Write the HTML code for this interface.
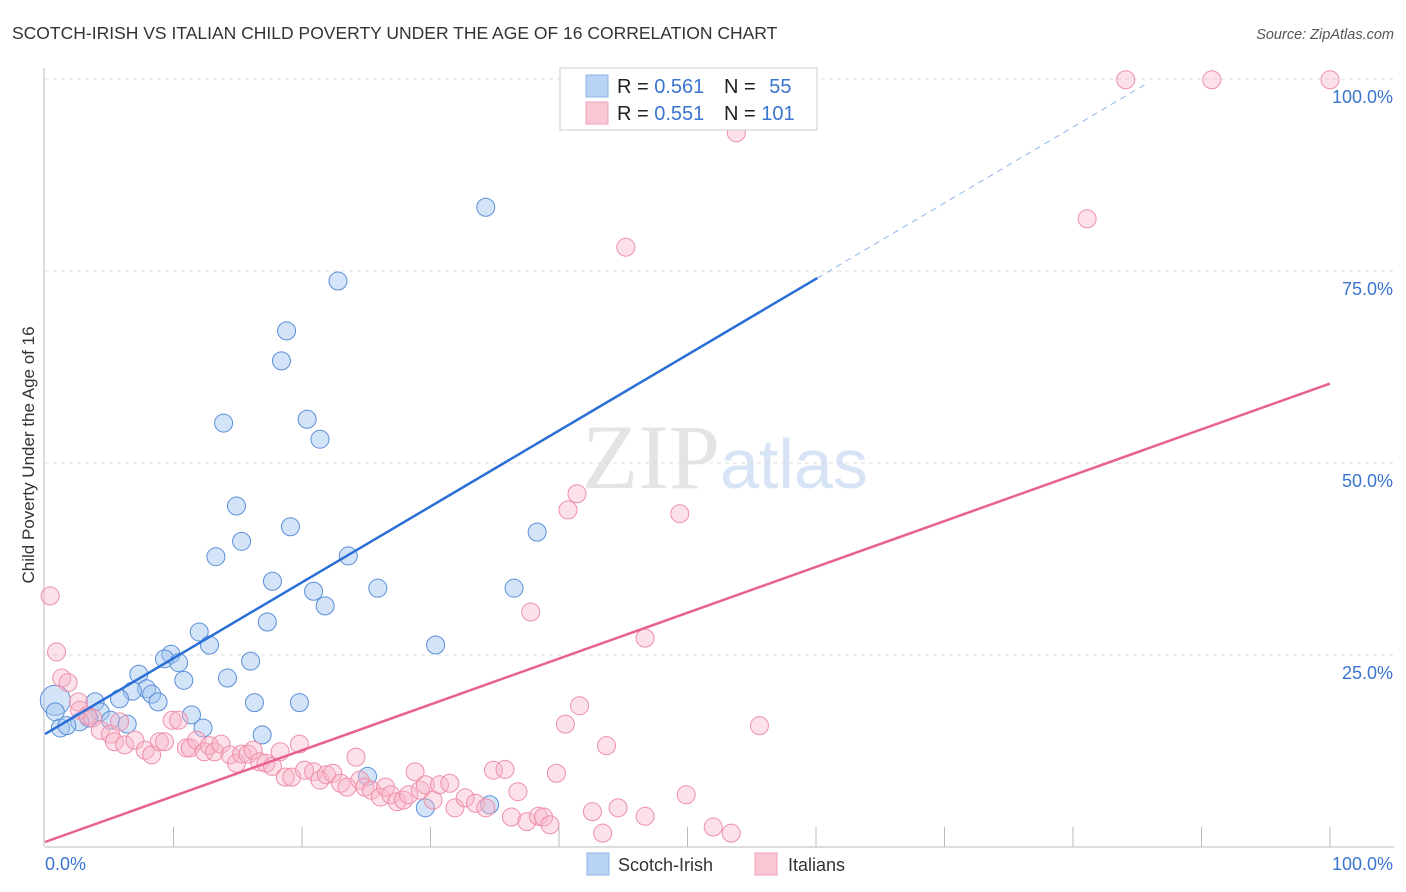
<!DOCTYPE html>
<html><head><meta charset="utf-8"><style>
body{margin:0;background:#fff;font-family:"Liberation Sans",sans-serif;}
svg{display:block}
</style></head><body>
<svg id="chart" width="1406" height="892" xmlns="http://www.w3.org/2000/svg">
<text x="12" y="39" font-size="17.5" fill="#333">SCOTCH-IRISH VS ITALIAN CHILD POVERTY UNDER THE AGE OF 16 CORRELATION CHART</text>
<text x="1394" y="39" font-size="14.5" fill="#555" font-style="italic" text-anchor="end">Source: ZipAtlas.com</text>
<text x="720" y="488" font-size="92" fill="#e4e4e4" text-anchor="end" font-family="Liberation Serif,serif">ZIP</text>
<text x="720" y="488" font-size="70" fill="#d6e4f5">atlas</text>
<g id="grid"></g>
<g id="axes"></g>
<g id="marks"></g>
<text transform="translate(34,455) rotate(-90)" font-size="17" fill="#333" text-anchor="middle">Child Poverty Under the Age of 16</text>
<g>
<rect x="560" y="68" width="257" height="62" fill="#fff" stroke="#ccc"/>
<rect x="586" y="75" width="22" height="22" fill="#b9d3f5" stroke="#8fb4e8"/>
<rect x="586" y="102" width="22" height="22" fill="#f9c6d4" stroke="#f0a0b8"/>
<text x="617" y="93" font-size="20" fill="#222">R = <tspan fill="#3a75d0">0.561</tspan></text>
<text x="724" y="93" font-size="20" fill="#222">N = <tspan fill="#3a75d0" dx="8">55</tspan></text>
<text x="617" y="120" font-size="20" fill="#222">R = <tspan fill="#3a75d0">0.551</tspan></text>
<text x="724" y="120" font-size="20" fill="#222">N = <tspan fill="#3a75d0">101</tspan></text>
</g>
<g>
<rect x="587" y="853" width="22" height="22" fill="#b9d3f5" stroke="#8fb4e8"/>
<text x="618" y="871" font-size="18" fill="#333">Scotch-Irish</text>
<rect x="755" y="853" width="22" height="22" fill="#f9c6d4" stroke="#f0a0b8"/>
<text x="788" y="871" font-size="18" fill="#333">Italians</text>
</g>
</svg>
<script>
const blueX=[34.3,22.8,18.8,18.4,20.4,13.9,21.4,14.9,19.1,15.3,13.3,38.3,23.6,17.7,20.9,25.9,36.5,21.8,17.3,12.0,30.4,12.8,9.8,9.3,16.0,10.4,7.3,10.8,14.2,7.9,6.8,8.3,8.8,5.8,3.9,16.3,19.8,4.3,11.4,5.1,3.4,2.7,6.4,12.3,0.8,0.8,1.2,1.7,16.9,25.1,29.6,34.6,53.7];
const blueY=[83.3,73.7,67.2,63.3,55.7,55.2,53.1,44.4,41.7,39.8,37.8,41.0,37.9,34.6,33.3,33.7,33.7,31.4,29.3,28.0,26.3,26.3,25.1,24.5,24.2,24.0,22.5,21.7,22.0,20.6,20.3,19.9,18.9,19.3,18.9,18.8,18.8,17.6,17.2,16.5,16.8,16.3,16.0,15.5,19.1,17.6,15.5,15.8,14.6,9.2,5.1,5.5,99.9];
const pinkX=[0.4,0.9,1.3,1.8,2.6,2.7,3.3,3.7,4.3,5.1,5.4,5.8,6.2,7.0,7.8,8.3,8.9,9.3,9.9,10.4,11.0,11.3,11.8,12.4,12.8,13.2,13.7,14.4,14.9,15.3,15.8,16.2,16.7,17.2,17.7,18.3,18.7,19.2,19.8,20.2,20.9,21.4,21.9,22.4,23.0,23.5,24.2,24.5,24.9,25.4,26.1,26.5,26.9,27.4,27.9,28.3,28.8,29.2,29.6,30.2,30.7,31.5,31.9,32.7,33.5,34.3,34.9,35.8,36.3,36.8,37.5,38.4,38.8,39.3,39.8,40.5,41.4,40.7,41.6,37.8,42.6,43.4,43.7,44.6,45.2,46.7,46.7,49.4,49.9,52.0,53.4,53.8,55.6,81.1,84.1,90.8,100];
const pinkY=[32.7,25.4,22.0,21.4,18.9,17.8,17.1,16.8,15.2,14.7,13.7,16.3,13.3,13.9,12.6,12.0,13.7,13.7,16.5,16.5,12.9,12.9,13.9,12.4,13.2,12.4,13.4,12.0,10.9,12.1,12.1,12.6,11.1,10.9,10.5,12.4,9.1,9.1,13.4,10.0,9.8,8.7,9.4,9.6,8.3,7.8,11.7,8.7,7.8,7.4,6.5,7.8,6.8,5.9,6.1,6.8,9.8,7.4,8.1,6.1,8.1,8.3,5.1,6.4,5.7,5.1,10.0,10.1,3.9,7.2,3.3,4.0,3.9,2.9,9.6,16.0,46.0,43.9,18.4,30.6,4.6,1.8,13.2,5.1,78.1,27.2,4.0,43.4,6.8,2.6,1.8,93.0,15.8,81.8,99.9,99.9,99.9];
const blueTrend=[14.7,0.988];
const pinkTrend=[0.65,0.597];
const yTicks=[25,50,75,100];
const NS='http://www.w3.org/2000/svg';
const X=v=>45+v*12.85, Y=v=>847-v*7.68;
function mk(tag,attrs,parent){const e=document.createElementNS(NS,tag);for(const k in attrs)e.setAttribute(k,attrs[k]);parent.appendChild(e);return e;}
const grid=document.getElementById('grid'),axes=document.getElementById('axes'),marks=document.getElementById('marks');
yTicks.forEach(t=>{
 const l=mk('line',{x1:45,x2:1394,y1:Y(t),y2:Y(t),stroke:'#ddd','stroke-dasharray':'4,4'},grid);
 
 
 const tx=mk('text',{x:1393,y:Y(t)+24,'font-size':18,fill:'#3a75d0','text-anchor':'end'},axes);
 tx.textContent=t.toFixed(1)+'%';
 
 
});
const ax=mk('line',{x1:45,x2:1394,y1:847,y2:847,stroke:'#bbb'},axes);


const ay=mk('line',{x1:44,x2:44,y1:68,y2:847,stroke:'#bbb'},axes);


for(let k=1;k<=10;k++){const t=mk('line',{x1:45+128.5*k,x2:45+128.5*k,y1:827,y2:847,stroke:'#bbb'},axes);
 
 }
[['0.0%',45,'start'],['100.0%',1393,'end']].forEach(([s,x,a])=>{const t=mk('text',{x:x,y:870,'font-size':18,fill:'#3a75d0','text-anchor':a},axes);t.textContent=s;
 
 });
blueX.forEach((v,i)=>{const big=(v<1&&blueY[i]>19);const c=mk('circle',{cx:X(v),cy:Y(blueY[i]),r:big?15:9,fill:'rgba(160,196,240,0.45)',stroke:'#5b8fd8','stroke-width':1},marks);
 
 });
pinkX.forEach((v,i)=>{const c=mk('circle',{cx:X(v),cy:Y(pinkY[i]),r:9,fill:'rgba(248,180,200,0.4)',stroke:'#ee8fab','stroke-width':1},marks);
 
 });
const b1=mk('line',{x1:X(0),y1:Y(blueTrend[0]),x2:X(60.1),y2:Y(blueTrend[0]+blueTrend[1]*60.1),stroke:'#2a6fd6','stroke-width':2.5},marks);


const b2=mk('line',{x1:X(60.1),y1:Y(blueTrend[0]+blueTrend[1]*60.1),x2:X(85.8),y2:Y(blueTrend[0]+blueTrend[1]*85.8),stroke:'#8fb4e8','stroke-width':1,'stroke-dasharray':'6,5'},marks);


const p1=mk('line',{x1:X(0),y1:Y(pinkTrend[0]),x2:X(100),y2:Y(pinkTrend[0]+pinkTrend[1]*100),stroke:'#e8628e','stroke-width':2.5},marks);


</script>
</body></html>
